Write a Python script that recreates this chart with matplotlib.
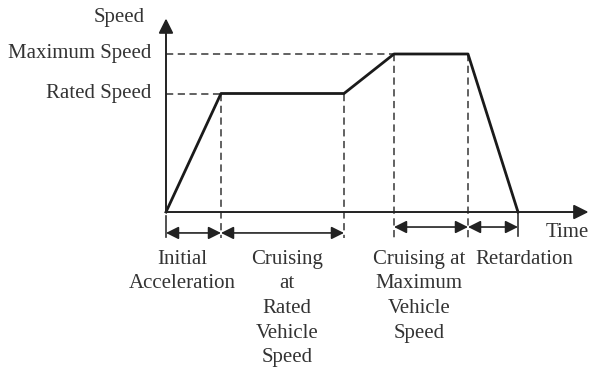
import matplotlib.pyplot as plt

plt.rcParams['font.family'] = ['Liberation Serif', 'DejaVu Serif']

# speed profile (time in arbitrary units, speed in arbitrary units)
time = [0, 1.1, 3.56, 4.56, 6.04, 7.04]
speed = [0, 3.0, 3.0, 4.0, 4.0, 0]
rated_speed = 3.0
max_speed = 4.0

speed_labels = ['Maximum Speed', 'Rated Speed']
speed_levels = [max_speed, rated_speed]

# phases: (start, end, arrow row, label)
phase_start = [0, 1.1, 4.56, 6.04]
phase_end = [1.1, 3.56, 6.04, 7.04]
phase_row = [-0.53, -0.53, -0.38, -0.38]
phase_labels = ['Initial\nAcceleration', 'Cruising\nat\nRated\nVehicle\nSpeed',
                'Cruising at\nMaximum\nVehicle\nSpeed', 'Retardation']
phase_text_x = [0.32, 2.42, 5.06, 7.16]

txt = '#333333'
dash_col = '#555555'
fs = 15

fig = plt.figure(figsize=(6, 3.81), dpi=100)
ax = fig.add_axes([0, 0, 1, 1])
ax.set_xlim(-3.32, 8.68)
ax.set_ylim(-4.278, 5.367)
ax.axis('off')

# axes with arrows
ax.annotate('', xy=(0, 4.9), xytext=(0, 0),
            arrowprops=dict(arrowstyle='-|>', color='#222222', lw=1.4,
                            mutation_scale=22, shrinkA=0, shrinkB=0))
ax.annotate('', xy=(8.45, 0), xytext=(0, 0),
            arrowprops=dict(arrowstyle='-|>', color='#222222', lw=1.4,
                            mutation_scale=22, shrinkA=0, shrinkB=0))

# guide lines
ax.plot([0, time[1]], [rated_speed, rated_speed], ls=(0, (4, 2.5)), color=dash_col, lw=1.3)
ax.plot([0, time[3]], [max_speed, max_speed], ls=(0, (4, 2.5)), color=dash_col, lw=1.3)
for t, s in zip(time[1:5], speed[1:5]):
    ax.plot([t, t], [s, -0.65], ls=(0, (4, 2.5)), color=dash_col, lw=1.3)
ax.plot([0, 0], [-0.1, -0.62], color='#333333', lw=1.2)
ax.plot([time[5], time[5]], [0, -0.6], color='#333333', lw=1.2)

# speed profile
ax.plot(time, speed, color='#1a1a1a', lw=2)

# phase arrows and labels
for a, b, r, lab, tx in zip(phase_start, phase_end, phase_row, phase_labels, phase_text_x):
    ax.annotate('', xy=(b, r), xytext=(a, r),
                arrowprops=dict(arrowstyle='<|-|>', color='#222222', lw=1.2,
                                mutation_scale=19, shrinkA=0, shrinkB=0))
    ax.text(tx, -0.95, lab, ha='center', va='top', multialignment='center',
            fontsize=fs, color=txt, linespacing=1.41)

ax.text(-0.42, 4.93, 'Speed', ha='right', va='center', fontsize=fs, color=txt)
for lab, lv in zip(speed_labels, speed_levels):
    ax.text(-0.3, lv, lab, ha='right', va='center', fontsize=fs, color=txt)
ax.text(8.02, -0.53, 'Time', ha='center', va='center', fontsize=fs, color=txt)

fig.savefig('out.png', dpi=100)
